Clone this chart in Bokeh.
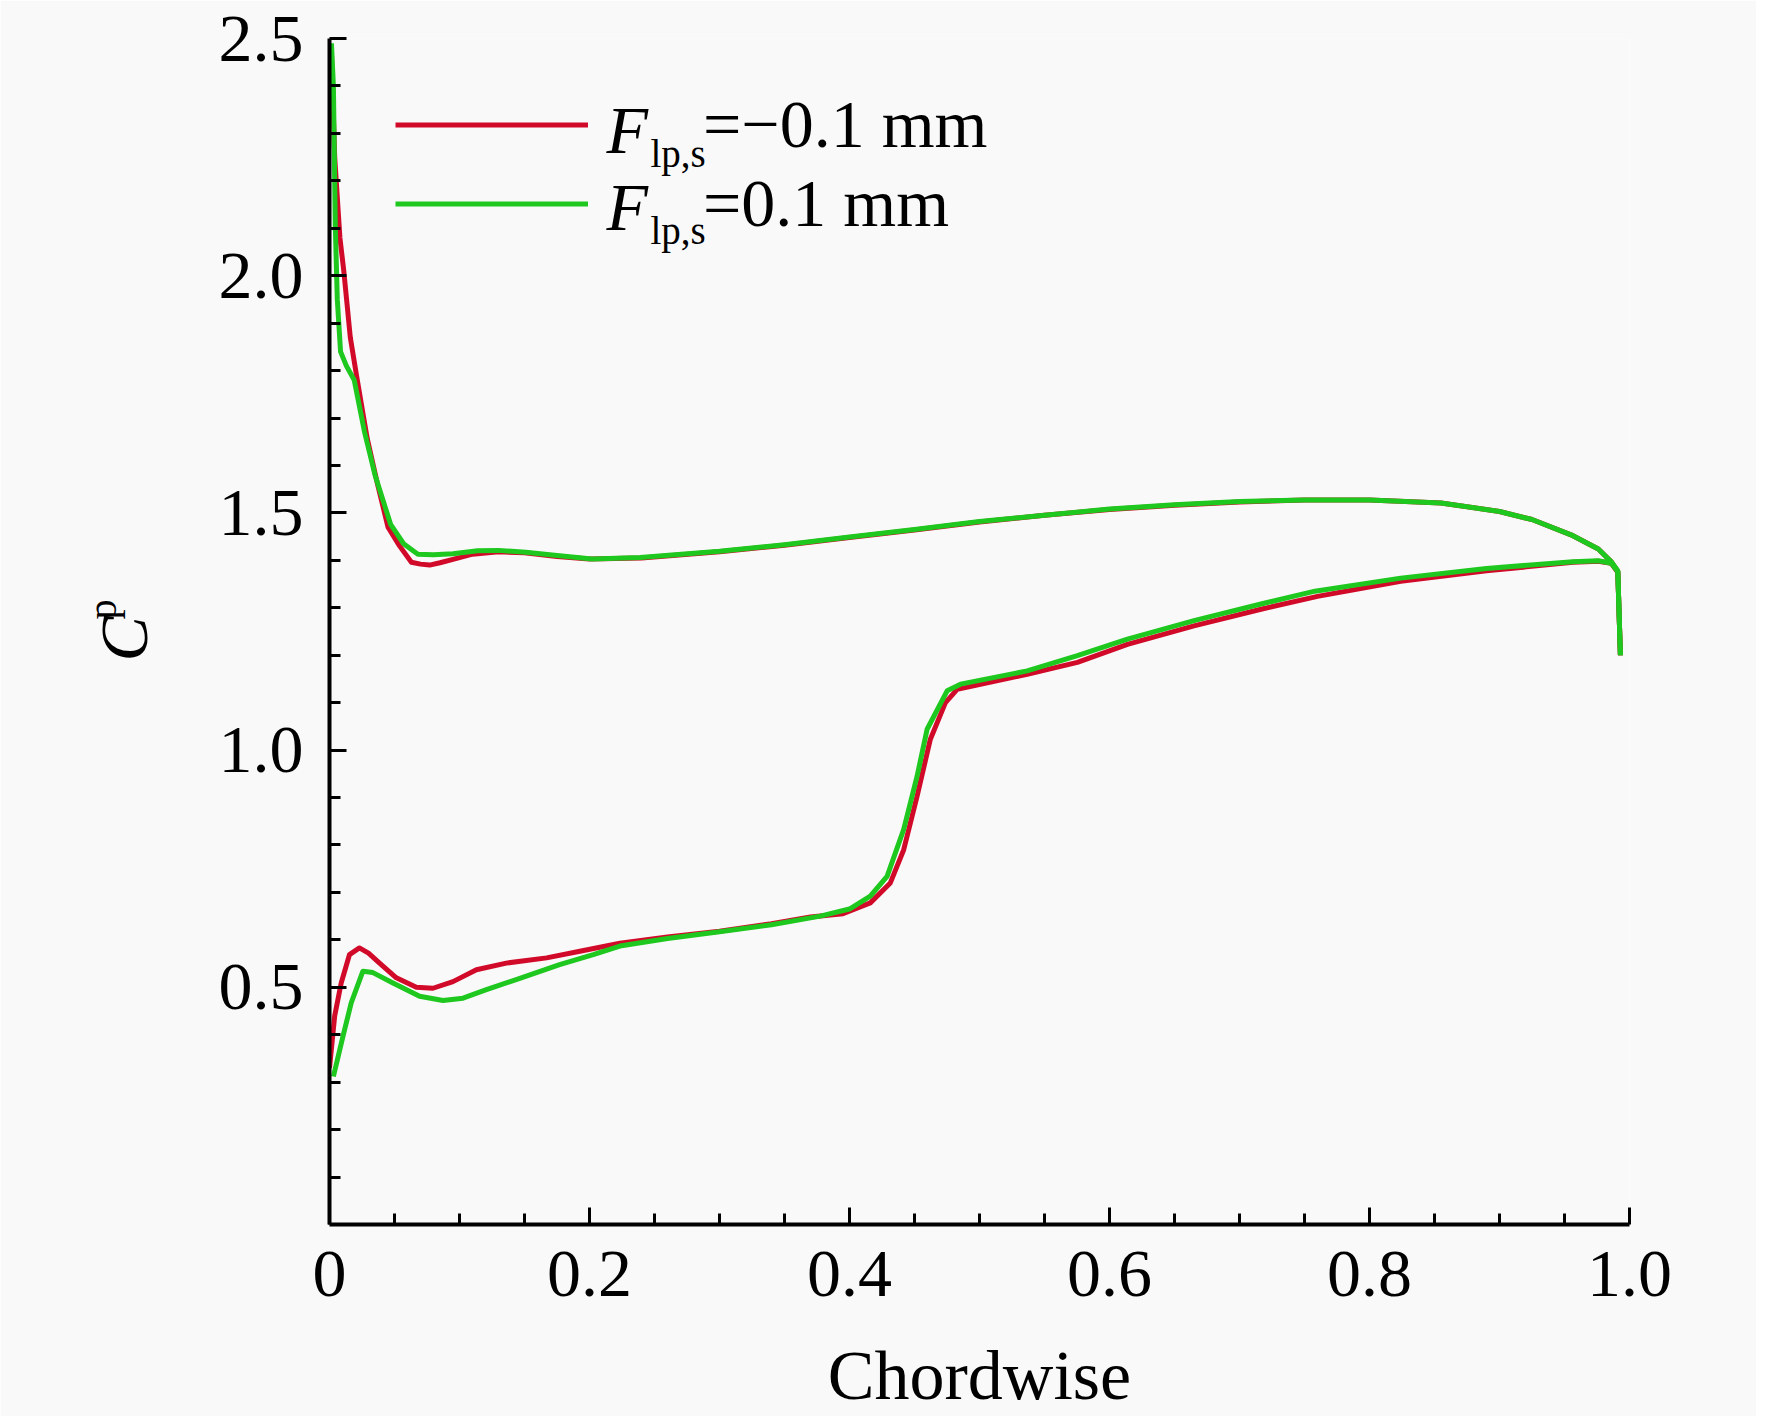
import math
from bokeh.plotting import figure
from bokeh.models import (Range1d, FixedTicker, PrintfTickFormatter, Legend, LegendItem, Label)
from bokeh.embed import file_html
from bokeh.resources import INLINE

# ---------------- data ----------------
red_up_x = [0.0015, 0.004, 0.008, 0.011, 0.016, 0.021, 0.029, 0.037, 0.045, 0.054, 0.063, 0.070, 0.077,
            0.085, 0.095, 0.110, 0.130, 0.150, 0.175, 0.200, 0.240, 0.300, 0.350, 0.400, 0.450, 0.500,
            0.550, 0.600, 0.650, 0.700, 0.750, 0.800, 0.855, 0.900, 0.925, 0.9565, 0.976, 0.986, 0.991, 0.993]
red_up_y = [2.47, 2.25, 2.08, 2.01, 1.87, 1.786, 1.657, 1.56, 1.47, 1.43, 1.396, 1.392, 1.39,
            1.395, 1.402, 1.413, 1.418, 1.416, 1.408, 1.403, 1.405, 1.418, 1.432, 1.448, 1.464, 1.481,
            1.495, 1.507, 1.516, 1.523, 1.527, 1.527, 1.521, 1.503, 1.486, 1.452, 1.424, 1.397, 1.376, 1.20]

green_up_x = [0.0015, 0.003, 0.0045, 0.006, 0.0085, 0.013, 0.019, 0.027, 0.035, 0.047, 0.057, 0.068, 0.080,
              0.095, 0.114, 0.130, 0.151, 0.175, 0.202, 0.239, 0.300, 0.350, 0.400, 0.450, 0.500, 0.550,
              0.600, 0.650, 0.700, 0.750, 0.800, 0.855, 0.900, 0.925, 0.9565, 0.976, 0.986, 0.991, 0.993]
green_up_y = [2.49, 2.40, 2.10, 1.95, 1.84, 1.81, 1.78, 1.67, 1.58, 1.476, 1.435, 1.413, 1.412,
              1.414, 1.420, 1.421, 1.417, 1.410, 1.403, 1.406, 1.419, 1.433, 1.449, 1.465, 1.482, 1.495,
              1.508, 1.517, 1.524, 1.527, 1.527, 1.521, 1.503, 1.486, 1.452, 1.424, 1.397, 1.378, 1.20]

red_lo_x = [0.000, 0.004, 0.009, 0.0154, 0.023, 0.030, 0.0385, 0.0514, 0.0668, 0.0796, 0.095, 0.113,
            0.136, 0.167, 0.1926, 0.2234, 0.260, 0.300, 0.340, 0.370, 0.395, 0.416, 0.4314, 0.4417,
            0.452, 0.4622, 0.4738, 0.4828, 0.506, 0.5367, 0.5753, 0.6138, 0.665, 0.7165, 0.760,
            0.824, 0.890, 0.9565, 0.976, 0.986, 0.991, 0.993]
red_lo_y = [0.33, 0.44, 0.509, 0.569, 0.583, 0.572, 0.551, 0.520, 0.500, 0.498, 0.512, 0.537,
            0.551, 0.562, 0.576, 0.593, 0.606, 0.618, 0.634, 0.648, 0.655, 0.678, 0.720, 0.790,
            0.903, 1.023, 1.100, 1.128, 1.142, 1.160, 1.185, 1.223, 1.262, 1.297, 1.324,
            1.356, 1.378, 1.396, 1.398, 1.394, 1.375, 1.20]

green_lo_x = [0.003, 0.0103, 0.0167, 0.0257, 0.0334, 0.0488, 0.0693, 0.0873, 0.1027, 0.1207, 0.1464,
              0.177, 0.2029, 0.2234, 0.260, 0.300, 0.340, 0.3775, 0.400, 0.416, 0.4289, 0.4417, 0.452,
              0.4597, 0.4751, 0.4854, 0.5367, 0.5753, 0.6138, 0.665, 0.7165, 0.758, 0.824, 0.890,
              0.9565, 0.976, 0.986, 0.991, 0.993]
green_lo_y = [0.312, 0.396, 0.467, 0.534, 0.531, 0.509, 0.481, 0.472, 0.477, 0.495, 0.519,
              0.548, 0.569, 0.587, 0.603, 0.617, 0.632, 0.650, 0.665, 0.692, 0.734, 0.833, 0.945,
              1.044, 1.125, 1.139, 1.167, 1.199, 1.234, 1.273, 1.308, 1.335, 1.3625, 1.383,
              1.397, 1.399, 1.394, 1.376, 1.20]

x_major = [0.0, 0.2, 0.4, 0.6, 0.8, 1.0]
x_minor = [0.05, 0.1, 0.15, 0.25, 0.3, 0.35, 0.45, 0.5, 0.55, 0.65, 0.7, 0.75, 0.85, 0.9, 0.95]
y_major = [0.5, 1.0, 1.5, 2.0, 2.5]
y_minor = [0.1, 0.2, 0.3, 0.4, 0.6, 0.7, 0.8, 0.9, 1.1, 1.2, 1.3, 1.4, 1.6, 1.7, 1.8, 1.9, 2.1, 2.2, 2.3, 2.4]

series_names = ["=\u22120.1 mm", "=0.1 mm"]
RED = "#d20a2a"
GREEN = "#1ec81e"
FONT = "Liberation Serif"
BG = "#f9f9f9"

# ---------------- figure ----------------
p = figure(width=1756, height=1416, output_backend="svg", toolbar_location=None,
           x_range=Range1d(0, 1), y_range=Range1d(0, 2.5),
           min_border_left=329, min_border_right=127, min_border_top=38, min_border_bottom=180)
p.background_fill_color = BG
p.border_fill_color = BG
p.outline_line_color = None
p.grid.visible = False

LW = 5
r1 = p.line(red_up_x, red_up_y, line_color=RED, line_width=LW, line_join="round")
p.line(red_lo_x, red_lo_y, line_color=RED, line_width=LW, line_join="round")
r2 = p.line(green_up_x, green_up_y, line_color=GREEN, line_width=LW, line_join="round")
p.line(green_lo_x, green_lo_y, line_color=GREEN, line_width=LW, line_join="round")

for ax in (p.xaxis[0], p.yaxis[0]):
    ax.axis_line_width = 4
    ax.axis_line_color = "black"
    ax.major_tick_line_width = 3
    ax.minor_tick_line_width = 3
    ax.major_tick_line_color = "black"
    ax.minor_tick_line_color = "black"
    ax.major_tick_out = 0
    ax.minor_tick_out = 0
    ax.major_tick_in = 17
    ax.minor_tick_in = 11
    ax.major_label_text_font = FONT
    ax.major_label_text_font_size = "68px"
    ax.major_label_text_color = "black"
    ax.formatter = PrintfTickFormatter(format="%.1f")

p.xaxis.ticker = FixedTicker(ticks=x_major, minor_ticks=x_minor)
p.yaxis.ticker = FixedTicker(ticks=y_major, minor_ticks=y_minor)
p.xaxis.major_label_overrides = {0: "0"}
p.xaxis.major_label_standoff = 27
p.yaxis.major_label_standoff = 26

p.xaxis.axis_label = "Chordwise"
p.xaxis.axis_label_text_font = FONT
p.xaxis.axis_label_text_font_size = "70px"
p.xaxis.axis_label_text_font_style = "normal"
p.xaxis.axis_label_text_color = "black"
p.xaxis.axis_label_standoff = 38

# y-axis label: C (italic) with subscript p, rotated, placed in the left side panel
p.add_layout(Label(x=-16, y=563, x_units="screen", y_units="screen", text="C",
                   angle=math.pi / 2, text_font=FONT, text_font_style="italic",
                   text_font_size="68px", text_color="black", text_align="left",
                   text_baseline="alphabetic"), "left")
p.add_layout(Label(x=8, y=605, x_units="screen", y_units="screen", text="p",
                   angle=math.pi / 2, text_font=FONT, text_font_size="40px",
                   text_color="black", text_align="left", text_baseline="alphabetic"), "left")

# legend
legend = Legend(items=[LegendItem(label=series_names[0], renderers=[r1]),
                       LegendItem(label=series_names[1], renderers=[r2])],
                location=(66, 981), orientation="vertical",
                glyph_width=193, glyph_height=77, label_height=77, spacing=0,
                label_standoff=115, padding=0, margin=0,
                border_line_color=None, background_fill_alpha=0,
                label_text_font=FONT, label_text_font_size="68px", label_text_color="black")
p.add_layout(legend)

for i, yb in enumerate([1095, 1018]):
    p.add_layout(Label(x=277, y=yb, x_units="screen", y_units="screen", text="F",
                       text_font=FONT, text_font_style="italic", text_font_size="68px",
                       text_color="black", text_baseline="alphabetic"))
    p.add_layout(Label(x=321, y=yb - 24, x_units="screen", y_units="screen", text="lp,s",
                       text_font=FONT, text_font_size="39px",
                       text_color="black", text_baseline="alphabetic"))

open("out.html", "w").write(file_html(p, INLINE))
